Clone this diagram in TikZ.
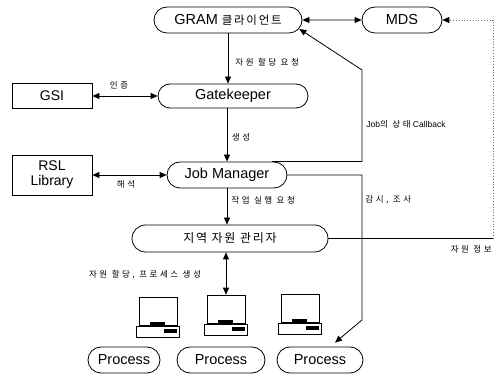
\documentclass[tikz,border=0pt]{standalone}
\usepackage{fontspec}
\setmainfont{Liberation Sans}
\newfontfamily\kr[LetterSpace=15]{Noto Sans CJK KR}
\newfontfamily\krl[LetterSpace=30]{Noto Sans CJK KR}
\usetikzlibrary{arrows.meta,shapes.misc}
\tikzset{
  pc/.pic={
    \node[draw, line width=0.6pt, minimum width=38pt, minimum height=28pt, inner sep=0pt] (-mon) at (0,0) {};
    \node[draw, line width=0.6pt, minimum width=43pt, minimum height=11pt, inner sep=0pt] (-base) at (0,20.5) {};
    \fill (-8,11) rectangle (7,14.5);
    \fill (6,18) rectangle (19,22);
  }
}
\begin{document}
\begin{tikzpicture}[x=1pt,y=-1pt, line width=0.8pt,
  pill/.style={rounded rectangle, draw, inner sep=0pt, minimum height=26pt, font=\fontsize{14.5}{16}\selectfont},
  box/.style={rectangle, draw, inner sep=0pt, align=center, font=\fontsize{14}{15}\selectfont},
  lab/.style={inner sep=0pt, font=\krl\fontsize{8.5}{10}\selectfont},
  tip/.style={-{Triangle[length=7pt,width=6pt,color=black]}},
  both/.style={{Triangle[length=7pt,width=6pt,color=black]}-{Triangle[length=7pt,width=6pt,color=black]}}]
\useasboundingbox (0,0) rectangle (496,379);
\node[pill, minimum width=148pt] (gram) at (228,20) {GRAM {\kr\fontsize{11.5}{13}\selectfont 클라이언트}};
\node[pill, minimum width=80pt] (mds) at (402,20) {MDS};
\node[pill, minimum width=150pt, minimum height=24pt] (gate) at (233,96) {Gatekeeper};
\node[box, minimum width=80pt, minimum height=25pt] (gsi) at (52,96) {GSI};
\node[box, minimum width=80pt, minimum height=40pt] (rsl) at (52,175) {RSL\\Library};
\node[pill, minimum width=120pt] (jm) at (227,175) {Job Manager};
\node[pill, minimum width=196pt, minimum height=27pt] (lrm) at (230,238.5) {\kr\fontsize{12}{14}\selectfont 지역 자원 관리자};
\node[pill, minimum width=72pt] (p1) at (124,360) {Process};
\node[pill, minimum width=88pt] (p2) at (221,360) {Process};
\node[pill, minimum width=86pt] (p3) at (320,360) {Process};
\pic (pc1) at (158,311) {pc};
\pic (pc2) at (226,309) {pc};
\pic (pc3) at (300,308.5) {pc};
% connectors
\draw[both] (gram) -- (mds);
\coordinate (rr) at (493,0);
\draw (lrm.east) -- (lrm.east -| rr);
\draw[tip, black!55, dotted] (lrm.east -| rr) -- (mds.east -| rr) -- (mds.east);
\draw[tip] (gram.south) -- (gram.south |- gate.north);
\draw[both] (gsi) -- (gate);
\draw[tip] (gate.south -| jm.north) -- (jm.north);
\draw[both] (rsl) -- (jm);
\draw[tip] (jm.south) -- (jm.south |- lrm.north);
\draw[both] (lrm.south -| pc2-mon.north) -- (pc2-mon.north);
\coordinate (cbx) at (362,70);
\draw[tip] ([xshift=45pt]jm.north) -| (cbx) -- ([shift={(-3pt,-9pt)}]gram.east);
\coordinate (mx) at (362,320);
\draw[tip] (jm.east) -| (mx) -- ([shift={(15pt,4pt)}]p3.north);
% labels
\node[lab, anchor=west] (l1) at (235,62) {자원 할당 요청};
\node[lab] (l2) at (119,85) {인증};
\node[lab] (l3) at (241,137) {생성};
\node[lab] (l4) at (126,184) {해석};
\node[lab, anchor=west] (l5) at (231,200) {작업 실행 요청};
\node[lab, anchor=west] (l6) at (365,200) {감시, 조사};
\node[lab, anchor=west, font=\fontsize{8.5}{10}\selectfont] (l7) at (366,124) {Job{\krl 의 상태} Callback};
\node[lab, anchor=east] (l8) at (492,249) {자원 정보};
\node[lab] (l9) at (145,275) {자원 할당, 프로세스 생성};
\end{tikzpicture}
\end{document}
